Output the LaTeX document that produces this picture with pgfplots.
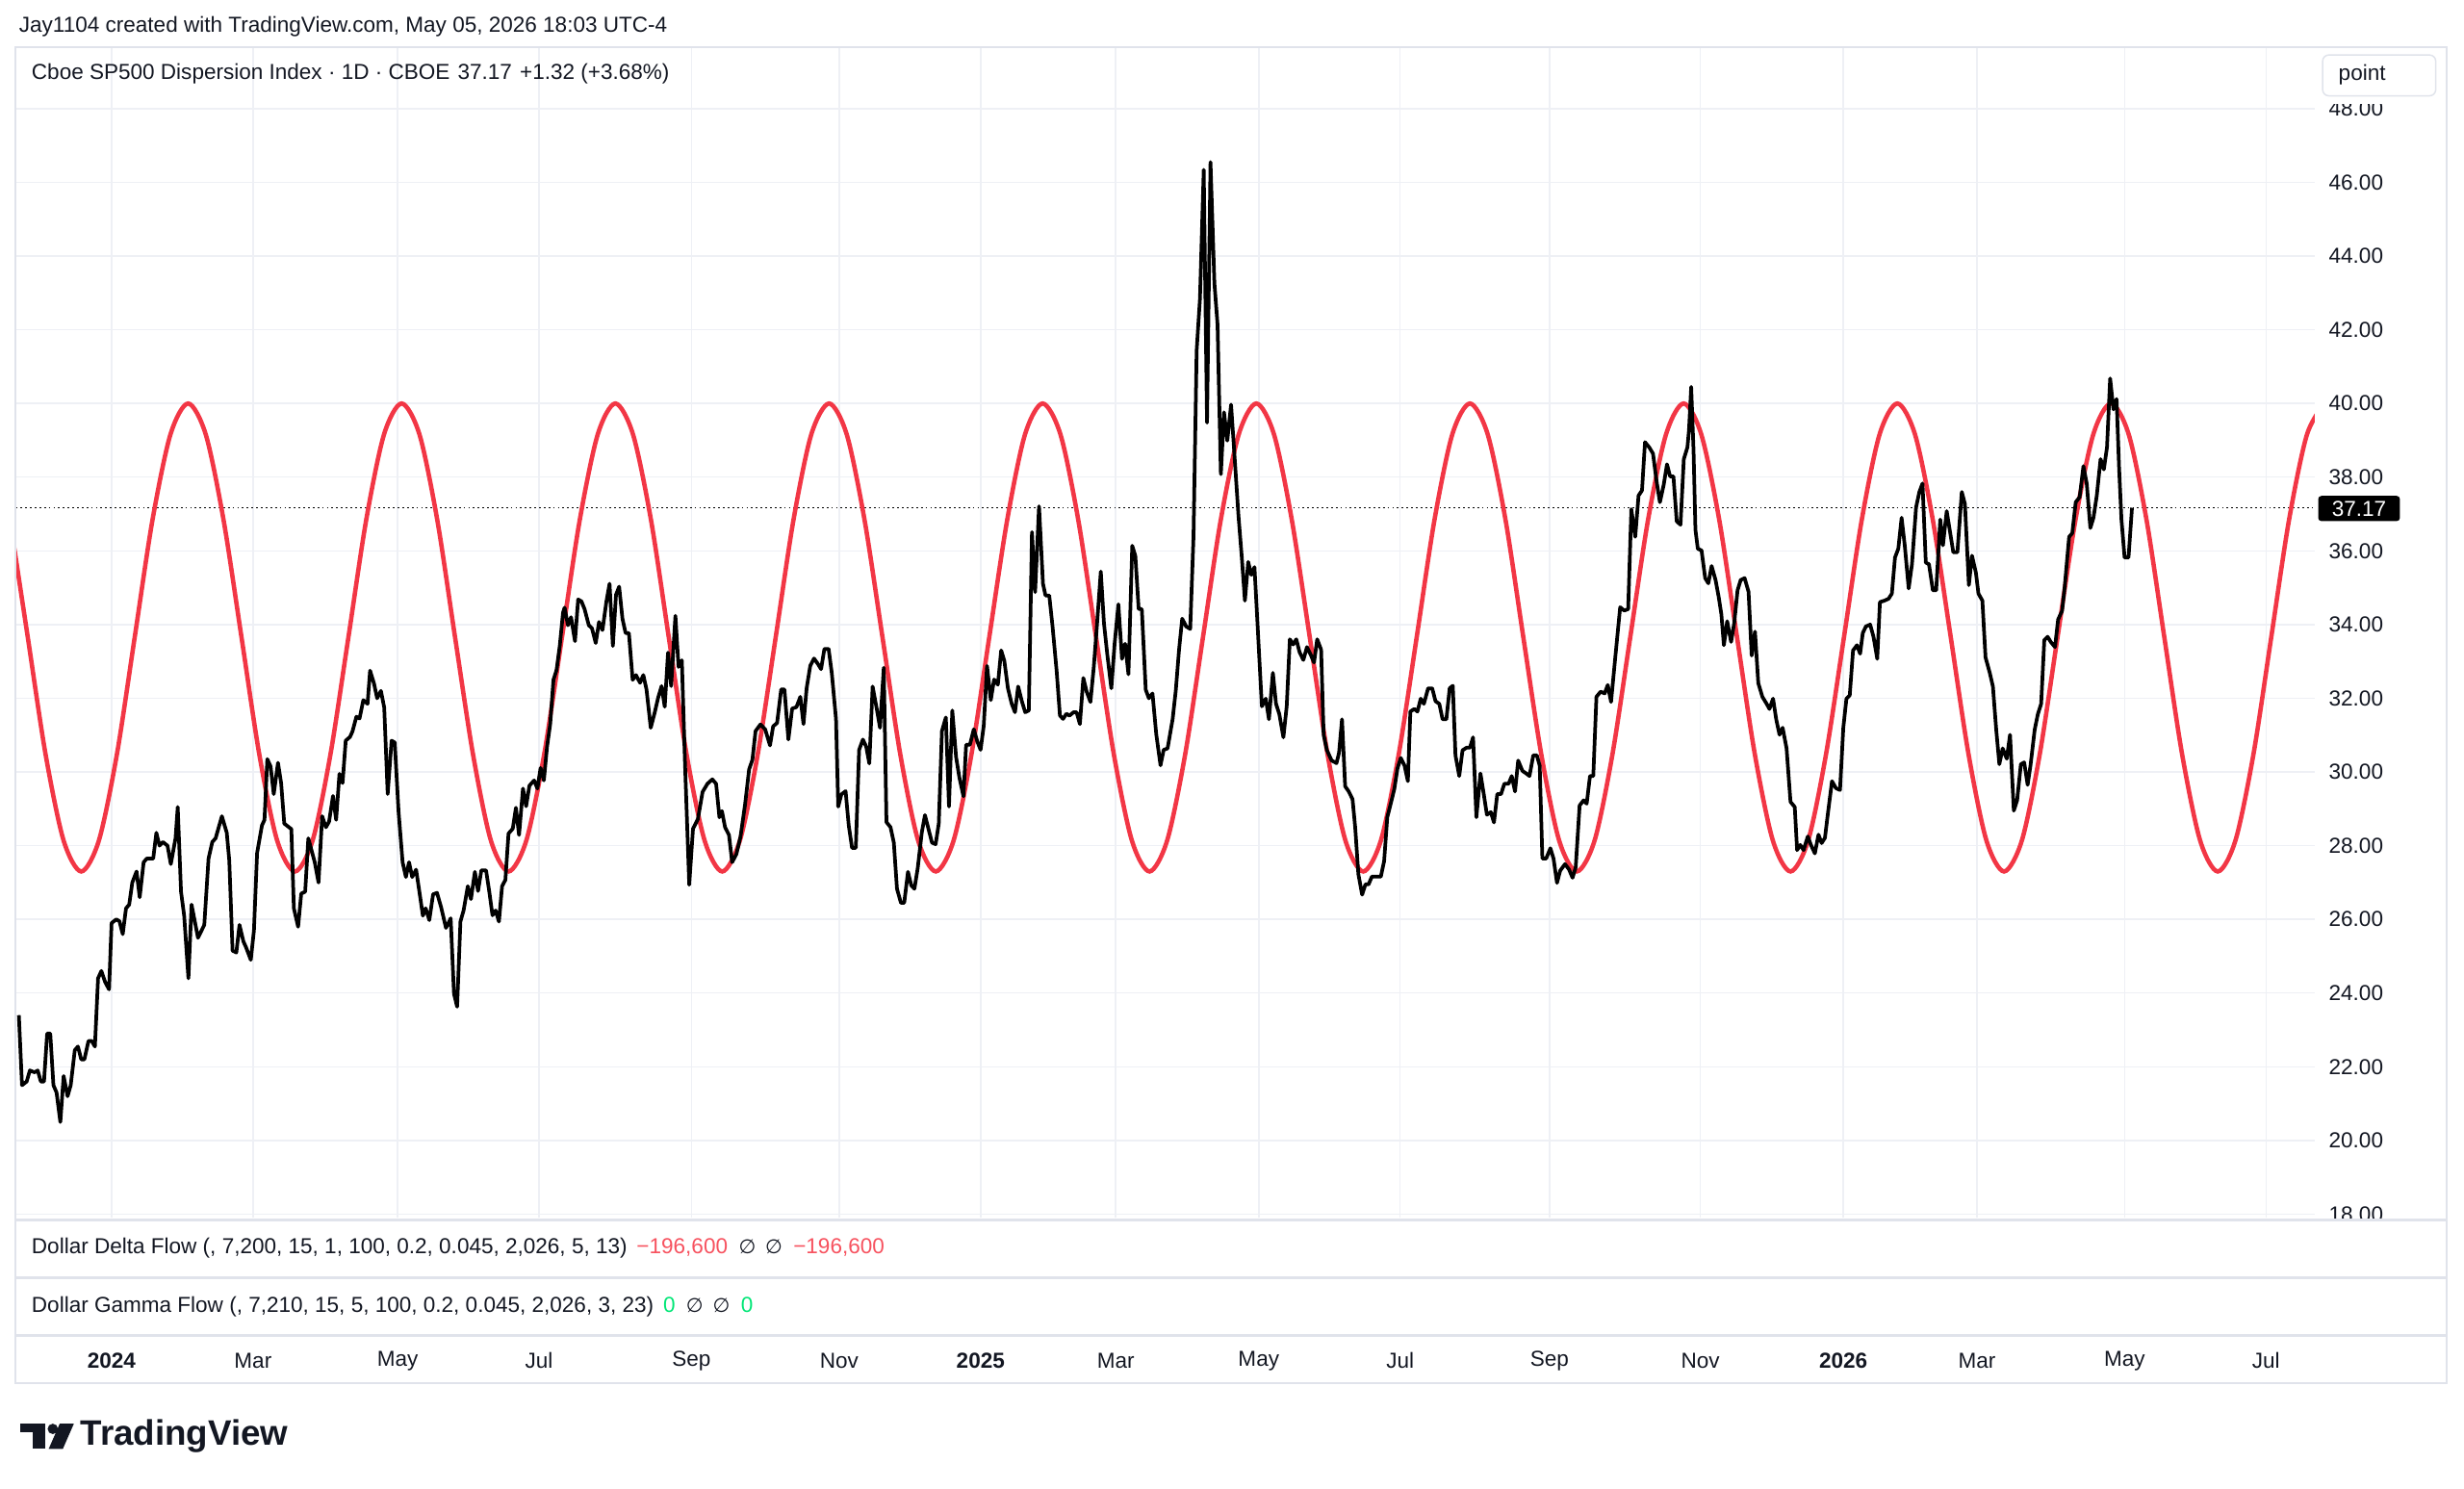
\documentclass[border=0pt]{standalone}
\usepackage{fontspec}
\setmainfont{Liberation Sans}
\newfontfamily\dejavu{DejaVu Sans}
\usepackage{pgfplots}
\pgfplotsset{compat=1.18}
\usepackage{pgfplotstable}
\definecolor{tvtext}{RGB}{19,23,34}
\definecolor{gridc}{RGB}{238,240,245}
\definecolor{framec}{RGB}{224,227,235}
\definecolor{tvred}{RGB}{242,54,69}
\definecolor{valred}{RGB}{247,82,95}
\definecolor{valgreen}{RGB}{0,230,118}
\newcommand\fs{\fontsize{13.8}{16}\selectfont}

\pgfplotstableread{
x y
12 23.4
14 21.5
17 21.6
19 21.9
22 21.85
24 21.9
26 21.6
28 21.6
30 22.9
32 22.9
34 21.5
36 21.3
38.4 20.5
40.5 21.75
43 21.2
45 21.5
47.6 22.45
49.6 22.55
51.7 22.2
53.7 22.2
56.3 22.7
58.4 22.7
60.4 22.55
62.4 24.4
64.5 24.6
66.9 24.3
69.4 24.1
71 25.9
74 26.0
76 25.95
78.1 25.6
80.2 26.3
82.2 26.4
84.2 27.0
86.9 27.3
88.9 26.6
91.4 27.55
93.4 27.65
97.5 27.65
99.5 28.35
101.5 28.0
103.6 28.1
106.6 28.0
108.7 27.5
111.7 28.2
113.1 29.05
115.2 26.75
117.2 26.1
119.9 24.4
121.9 26.4
126 25.5
130 25.85
132.7 27.65
135.1 28.1
137.2 28.2
141.2 28.8
144.3 28.35
145.9 27.6
148 25.15
150.4 25.1
152.4 25.85
154.9 25.4
156.5 25.25
159.6 24.9
161.6 25.7
163.6 27.8
166.7 28.55
168.3 28.7
170.1 30.35
172.2 30.15
174.2 29.4
176.9 30.25
178.9 29.7
180.9 28.6
185.4 28.45
187 26.3
189.7 25.8
191.7 26.7
194.2 26.75
196.2 28.2
200.3 27.55
202.7 27.0
205 28.8
207.4 28.5
209.4 28.65
211.9 29.35
213.9 28.7
216 29.95
218 29.7
220 30.85
222.7 30.95
224.3 31.1
226.8 31.5
228.8 31.45
231.2 31.95
233.9 31.85
235.5 32.75
238 32.4
240 32.0
242.4 32.2
244.5 31.75
246.7 29.4
249.2 30.85
251.2 30.8
253.6 28.94
256.2 27.55
258.3 27.15
260.3 27.55
262.3 27.15
264.8 27.35
267.4 26.6
269.1 26.1
270.9 26.3
273.2 25.98
275.6 26.68
278.1 26.72
280.7 26.33
283.8 25.77
285.4 25.9
286.8 26.03
288.9 23.98
290.9 23.63
293 25.94
295 26.24
297.7 26.9
299.7 26.55
302.2 27.29
304.2 26.77
306.3 27.33
309.3 27.33
311.3 26.77
313.4 26.11
315.4 26.24
317.5 25.94
319.5 26.9
321.6 27.07
323.6 28.33
326.3 28.46
328.3 29.03
330.3 28.29
332.8 29.55
334.8 29.07
336.9 29.63
339.9 29.77
342 29.55
344 30.11
346.1 29.77
348.1 30.68
350.1 31.29
352.2 32.5
354.2 32.77
356.2 33.42
358.3 34.33
359.3 34.46
361.4 33.98
363.4 34.2
365.9 33.55
367.9 34.68
370 34.63
372 34.42
374.7 33.98
376.7 33.9
379.1 33.5
381.2 34.07
383.4 33.85
385.9 34.63
387.9 35.11
390 33.42
392 34.81
394 35.03
396.1 34.16
398.1 33.77
400.2 33.77
402.6 32.5
404.7 32.63
407.3 32.42
409.4 32.63
411.4 32.24
414.1 31.2
416.5 31.59
418.9 32.03
421 32.33
423 31.77
425.1 33.24
427.1 32.33
429.8 34.24
431.8 32.85
433.9 33.03
435.9 30.24
438.6 26.94
441 28.46
444.1 28.72
447.1 29.46
450.2 29.68
453.3 29.8
455.7 29.68
457.8 28.77
459.4 28.94
461.4 28.5
463.9 28.29
465.9 27.55
468.6 27.77
471.2 28.24
474.1 29.11
476.7 30.07
478.8 30.33
480.8 31.11
483.9 31.29
486.9 31.16
490 30.72
492 31.24
494.5 31.33
497.1 32.24
499.2 32.24
501.7 30.88
504.1 31.72
506.8 31.76
509.3 32.04
511.3 31.3
513.3 32.27
515.6 32.88
518 33.08
520.5 32.93
522.5 32.79
524.6 33.34
527.3 33.34
529.3 32.69
532 31.44
533.4 29.06
535.4 29.39
538.1 29.48
540.1 28.55
542.2 27.94
544.6 27.94
546.7 30.6
549.1 30.88
551.2 30.69
553.2 30.23
555.3 32.32
557.9 31.72
560 31.2
562.4 32.83
564.1 28.64
566.7 28.5
568.8 28.08
570.8 26.83
573.3 26.45
575.4 26.45
577.8 27.29
579.9 26.92
581.9 26.83
584 27.39
586.6 28.36
588.6 28.83
591.1 28.41
593.1 28.08
595.4 28.04
597.4 28.6
599.4 31.11
601.9 31.48
603.9 29.06
606 31.67
608.4 30.41
610.5 29.85
613.1 29.34
614.8 30.74
617.2 30.74
619.7 31.16
621.9 30.83
624 30.6
626 31.25
628.1 32.88
630.5 31.95
632.6 32.51
635 32.37
637.1 33.3
639.1 33.02
641.4 32.27
643.8 31.85
645.9 31.62
647.9 32.32
650.4 31.9
652.4 31.62
654.7 31.67
656.7 36.51
658.7 34.88
661.2 37.21
663.7 35.11
665.3 34.79
667.7 34.79
669.8 33.95
672.4 32.74
674.5 31.53
676.5 31.44
678.6 31.58
680.6 31.53
683.1 31.62
685.1 31.62
687.2 31.3
689.4 32.55
691.5 32.18
693.9 31.9
696 32.83
698 33.95
700.5 35.44
702.5 34.04
704.6 33.2
707.2 32.27
709.3 33.48
711.7 34.55
714 33.07
716 33.48
718.1 32.65
720.5 36.14
722.5 35.86
724.6 34.42
726.6 34.42
729.1 32.23
731.1 32.0
733.4 32.13
735.8 31.02
738.5 30.18
740.5 30.6
743 30.64
746.2 31.43
748.2 32.2
750.3 33.32
752.3 34.16
754.8 33.95
757.4 33.88
759.5 36.4
761.5 41.44
763.6 42.84
766 46.34
768.1 39.48
770.3 46.55
772.8 43.26
774.8 42.14
776.9 38.08
778.9 39.76
781 38.99
783.4 39.97
785.5 38.64
788.1 36.96
790.2 35.84
792.2 34.65
794.3 35.7
796.3 35.35
798.3 35.56
800.4 33.88
803 31.78
805.5 31.99
807.5 31.43
810 32.69
812 31.85
814.1 31.57
816.7 30.94
818.8 31.78
820.8 33.6
822.9 33.46
824.9 33.6
827 33.25
829.4 33.04
831.7 33.39
834.1 33.18
836.2 32.97
838.2 33.6
840.7 33.32
842.3 31.01
844.4 30.59
847.4 30.31
850.5 30.24
852.1 30.52
854 31.43
856 29.61
858.3 29.47
860.7 29.26
862.4 28.49
864.4 27.23
866.8 26.67
868.9 26.95
870.9 26.95
873 27.16
876 27.16
878.7 27.16
880.8 27.58
882.8 28.77
885.3 29.19
887.3 29.54
889.3 30.1
891.4 30.38
893.8 30.17
895.9 29.75
897.5 31.64
900 31.71
902 31.64
904.1 31.99
906.1 31.85
908.8 32.27
911.4 32.27
913.5 31.92
915.9 31.85
918 31.43
920.4 31.43
922.5 32.27
924.5 32.34
926.2 30.45
928.6 29.89
930.7 30.59
933.3 30.66
935.4 30.66
937.4 30.94
939.5 28.77
942.1 29.96
944.2 29.4
946.2 28.84
948.7 28.91
950.7 28.63
952.8 29.4
955.2 29.4
957.3 29.68
960 29.68
962 29.89
964.1 29.47
966.1 30.31
968.8 30.03
971.2 29.96
973.3 29.89
975.7 30.45
978 30.45
979.8 30.17
981.5 27.65
983.9 27.65
986.6 27.93
988.6 27.65
990.8 26.99
992.8 27.32
995.9 27.5
998.4 27.36
1000.7 27.13
1002.7 27.41
1005.2 29.09
1007.7 29.23
1009.7 29.14
1011.8 29.89
1013.9 29.89
1015.9 32.04
1018.6 32.18
1021.1 32.13
1023.1 32.36
1025.2 31.9
1027.8 33.07
1031 34.47
1033.6 34.38
1036.1 34.42
1038.1 37.13
1040.6 36.38
1042.7 37.5
1044.9 37.64
1046.8 38.95
1049.5 38.81
1051.9 38.64
1054.2 37.88
1056.3 37.32
1058.7 37.79
1060.8 38.35
1062.8 38.02
1064.9 38.02
1067 36.8
1069.4 36.71
1071.5 38.49
1073.8 38.81
1074.8 39.28
1076.2 40.45
1077.7 38.72
1078.9 36.57
1080.4 36.06
1082.8 36.01
1085.1 35.26
1087.1 35.12
1089.2 35.59
1091.7 35.21
1093.7 34.75
1095.4 34.28
1097 33.44
1099.1 34.09
1101.6 33.53
1103.6 34.05
1105.7 34.93
1107.7 35.21
1110.2 35.26
1112.7 34.89
1114.7 33.16
1116.8 33.81
1118.9 32.41
1121.5 32.04
1124.2 31.85
1126 31.71
1128.3 31.99
1130.3 31.43
1132.4 31.01
1134.4 31.2
1136.9 30.64
1139.4 29.19
1142.1 29.05
1143.6 27.88
1145.6 28.02
1147.7 27.88
1150.4 28.25
1152.4 28.02
1154.9 27.79
1157.2 28.3
1159.2 28.07
1161.3 28.21
1163.3 28.91
1165.8 29.75
1168.3 29.56
1170.9 29.51
1173 31.2
1175 31.99
1177.1 32.08
1179.2 33.3
1181.7 33.44
1183.7 33.21
1185.4 33.77
1187.4 33.95
1190.1 34.0
1192.2 33.67
1194.6 33.07
1196.3 34.61
1199.2 34.65
1201.8 34.7
1203.9 34.84
1205.9 35.82
1208 36.06
1210.1 36.9
1212.1 36.15
1214.6 34.98
1216.7 35.64
1219.3 37.18
1221.4 37.6
1223.4 37.83
1225.5 35.68
1227.5 35.64
1230 34.93
1232.1 34.93
1234.7 36.85
1236.4 36.15
1238.8 37.08
1240.9 36.52
1243 35.96
1245.6 35.96
1248.4 37.6
1250.4 37.27
1252.9 35.07
1254.9 35.87
1257.4 35.4
1259 34.84
1261.5 34.65
1263.5 33.11
1266.2 32.69
1268.2 32.32
1270.3 31.15
1272.3 30.21
1274.4 30.64
1277 30.36
1279.1 31.01
1281.5 28.95
1283.6 29.23
1286 30.21
1288.1 30.26
1290.3 29.65
1292.1 30.17
1294.8 31.15
1296.8 31.57
1298.9 31.85
1300.9 33.58
1303 33.67
1305 33.53
1307.7 33.39
1309.7 34.14
1312.2 34.37
1313.8 34.98
1316.7 36.38
1318.7 36.48
1320.9 37.32
1323.4 37.46
1325.8 38.3
1327.9 37.83
1330.2 36.62
1332.2 36.9
1334.3 37.5
1336.7 38.49
1338.8 38.21
1340.8 38.81
1342.8 40.68
1344.9 39.84
1346.9 40.12
1348.5 38.25
1350 36.85
1352 35.82
1354.5 35.82
1356.7 37.17
}\dispdata

\pgfplotstableread{
x y
6.4 36.83
17.7 33.65
29.0 30.48
40.4 28.15
51.7 27.30
63.0 28.15
74.4 30.48
85.7 33.65
97.0 36.83
108.4 39.15
119.7 40.00
131.0 39.15
142.3 36.83
153.7 33.65
165.0 30.48
176.3 28.15
187.7 27.30
199.0 28.15
210.3 30.48
221.7 33.65
233.0 36.83
244.3 39.15
255.6 40.00
267.0 39.15
278.3 36.83
289.6 33.65
301.0 30.48
312.3 28.15
323.6 27.30
335.0 28.15
346.3 30.48
357.6 33.65
368.9 36.83
380.3 39.15
391.6 40.00
402.9 39.15
414.3 36.83
425.6 33.65
436.9 30.48
448.3 28.15
459.6 27.30
470.9 28.15
482.2 30.48
493.6 33.65
504.9 36.83
516.2 39.15
527.6 40.00
538.9 39.15
550.2 36.83
561.6 33.65
572.9 30.48
584.2 28.15
595.5 27.30
606.9 28.15
618.2 30.48
629.5 33.65
640.9 36.83
652.2 39.15
663.5 40.00
674.9 39.15
686.2 36.83
697.5 33.65
708.8 30.48
720.2 28.15
731.5 27.30
742.8 28.15
754.2 30.48
765.5 33.65
776.8 36.83
788.2 39.15
799.5 40.00
810.8 39.15
822.1 36.83
833.5 33.65
844.8 30.48
856.1 28.15
867.5 27.30
878.8 28.15
890.1 30.48
901.5 33.65
912.8 36.83
924.1 39.15
935.4 40.00
946.8 39.15
958.1 36.83
969.4 33.65
980.8 30.48
992.1 28.15
1003.4 27.30
1014.8 28.15
1026.1 30.48
1037.4 33.65
1048.7 36.83
1060.1 39.15
1071.4 40.00
1082.7 39.15
1094.1 36.83
1105.4 33.65
1116.7 30.48
1128.1 28.15
1139.4 27.30
1150.7 28.15
1162.0 30.48
1173.4 33.65
1184.7 36.83
1196.0 39.15
1207.4 40.00
1218.7 39.15
1230.0 36.83
1241.4 33.65
1252.7 30.48
1264.0 28.15
1275.3 27.30
1286.7 28.15
1298.0 30.48
1309.3 33.65
1320.7 36.83
1332.0 39.15
1343.3 40.00
1354.7 39.15
1366.0 36.83
1377.3 33.65
1388.6 30.48
1400.0 28.15
1411.3 27.30
1422.6 28.15
1434.0 30.48
1445.3 33.65
1456.6 36.83
1468.0 39.15
1479.3 40.00
}\sinedata

\begin{document}
\begin{tikzpicture}[x=1pt,y=1pt]
\useasboundingbox (0,0) rectangle (1568,947);
\fill[white] (0,0) rectangle (1568,947);

\begin{axis}[
  at={(10pt,917pt)}, anchor=north west,
  scale only axis, width=1463pt, height=745pt,
  xmin=10, xmax=1473, ymin=17.9, ymax=49.67,
  axis line style={draw=none},
  major tick length=0pt,
  xtick={71,161,253,343,440,534,624,710,801,891,986,1082,1173,1258,1352,1442},
  xticklabels={\textbf{2024},Mar,May,Jul,Sep,Nov,\textbf{2025},Mar,May,Jul,Sep,Nov,\textbf{2026},Mar,May,Jul},
  ytick={18,20,...,48},
  xmajorgrids, ymajorgrids,
  grid style={gridc, line width=0.9pt},
  yticklabel pos=right,
  tick label style={font=\fs, color=tvtext},
  x tick label style={anchor=center, yshift=-91pt},
  y tick label style={anchor=west, xshift=5.5pt,
    /pgf/number format/fixed, /pgf/number format/fixed zerofill,
    /pgf/number format/precision=2, /pgf/number format/assume math mode=true},
  clip=true,
]
\addplot[black, line width=1pt, dash pattern=on 1.1pt off 1.9pt] coordinates {(10,37.17) (1473,37.17)};
\addplot[tvred, line width=2.8pt, smooth] table[x=x,y=y] {\sinedata};
\addplot[black, line width=2.3pt, line join=round] table[x=x,y=y] {\dispdata};
\end{axis}

% covers over the price scale
\fill[white] (1474,947-812) rectangle (1556,947-776.5);
\fill[white] (1474,947-31) rectangle (1556,947-66);

% frame and separators
\draw[framec, line width=1.2pt] (10,947-30) rectangle (1557,947-880);
\draw[framec, line width=2pt] (10,947-776.5) -- (1557,947-776.5);
\draw[framec, line width=2pt] (10,947-813) -- (1557,947-813);
\draw[framec, line width=2pt] (10,947-850) -- (1557,947-850);

% texts
\node[anchor=west, inner sep=0pt, text=tvtext, font=\fs] at (12,947-17)
  {Jay1104 created with TradingView.com, May 05, 2026 18:03 UTC-4};
\node[anchor=west, inner sep=0pt, text=tvtext, font=\fs] at (20,947-47)
  {Cboe SP500 Dispersion Index · 1D · CBOE\hspace{5pt}37.17\hspace{5pt}+1.32 (+3.68\%)};
\node[anchor=west, inner sep=0pt, text=tvtext, font=\fs] at (20,947-794.5)
  {Dollar Delta Flow (, 7,200, 15, 1, 100, 0.2, 0.045, 2,026, 5, 13)\hspace{6pt}\textcolor{valred}{−196,600}\hspace{7pt}{\dejavu\fontsize{12.5}{15}\selectfont ∅\hspace{6pt}∅}\hspace{7pt}\textcolor{valred}{−196,600}};
\node[anchor=west, inner sep=0pt, text=tvtext, font=\fs] at (20,947-831.5)
  {Dollar Gamma Flow (, 7,210, 15, 5, 100, 0.2, 0.045, 2,026, 3, 23)\hspace{6pt}\textcolor{valgreen}{0}\hspace{7pt}{\dejavu\fontsize{12.5}{15}\selectfont ∅\hspace{6pt}∅}\hspace{7pt}\textcolor{valgreen}{0}};

% point box
\draw[framec, line width=0.9pt, fill=white, rounded corners=4pt] (1478,947-35) rectangle (1550,947-61);
\node[anchor=west, inner sep=0pt, text=tvtext, font=\fs] at (1488,947-47.5) {point};

% last price tag
\node[fill=black, text=white, rounded corners=2pt, anchor=west, inner sep=0pt,
      minimum width=52pt, minimum height=16pt, font=\fs] at (1475,947-323.6) {37.17};

% TradingView watermark
\fill[tvtext] (13,947-906) rectangle (29,947-911.5);
\fill[tvtext] (21,947-906) rectangle (29,947-922);
\fill[tvtext] (33.6,947-909.3) circle (3.3);
\fill[tvtext] (38,947-906) -- (47,947-906) -- (40,947-922) -- (31,947-922) -- cycle;
\node[anchor=west, inner sep=0pt, text=tvtext, font=\fontsize{22.5}{26}\selectfont\bfseries] at (51,947-914) {TradingView};
\end{tikzpicture}
\end{document}
